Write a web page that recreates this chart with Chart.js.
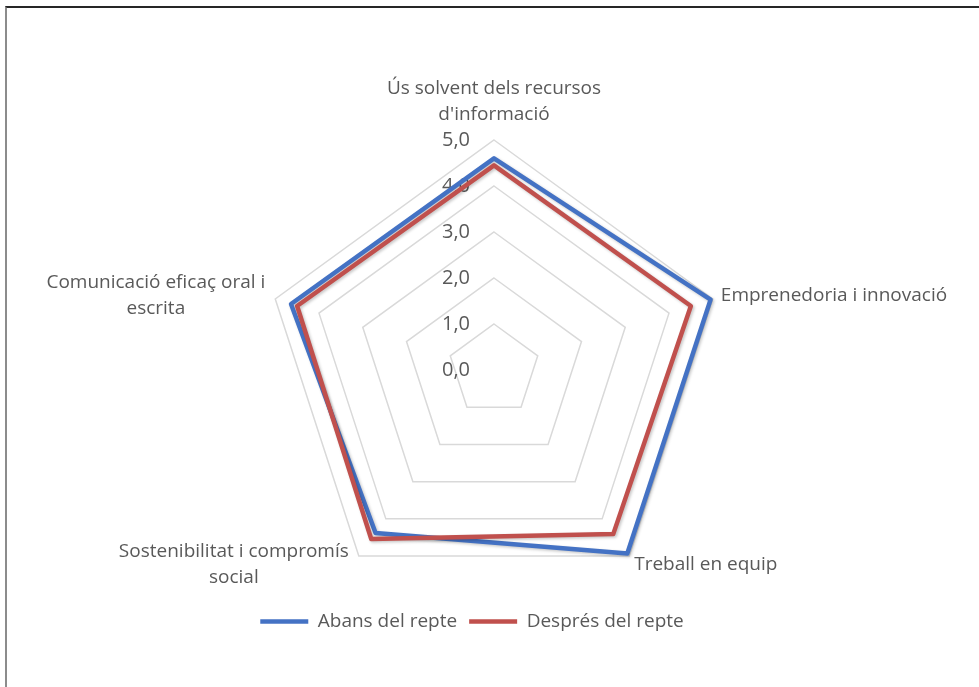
<!DOCTYPE html>
<html>
<head>
<meta charset="utf-8">
<script src="https://cdn.jsdelivr.net/npm/chart.js@4.4.0/dist/chart.umd.min.js"></script>
<style>
    html, body { margin: 0; padding: 0; background: #fff; }
    #wrap { position: relative; width: 979px; height: 687px; }
    #frame {
        position: absolute; left: 5px; top: 6px; right: 0; bottom: 0;
        border-top: 2px solid #262626; border-left: 2px solid #8c8c8c;
        pointer-events: none;
    }
</style>
</head>
<body>
<div id="wrap">
    <canvas id="radarChart"></canvas>
    <div id="frame"></div>
</div>
<script>
// Data
const categories = [
    ['Ús solvent dels recursos', "d'informació"],
    'Emprenedoria i innovació',
    'Treball en equip',
    ['Sostenibilitat i compromís', 'social'],
    ['Comunicació eficaç oral i', 'escrita']
];
const seriesNames = ['Abans del repte', 'Després del repte'];
const abansValues = [4.6, 4.95, 4.93, 4.38, 4.64];
const despresValues = [4.45, 4.5, 4.41, 4.54, 4.5];
const tickValues = [0, 1, 2, 3, 4, 5];

const textColor = '#595959';
const fontFamily = '"Open Sans", "DejaVu Sans", sans-serif';

// Tick labels left of the axis and wrapped point labels, drawn under the lines
const radarText = {
    id: 'radarText',
    beforeDatasetsDraw(chart) {
        const scale = chart.scales.r;
        const ctx = chart.ctx;
        ctx.save();
        ctx.fillStyle = textColor;
        ctx.textBaseline = 'middle';

        ctx.font = '20px ' + fontFamily;
        ctx.textAlign = 'right';
        tickValues.forEach(function(v) {
            const y = scale.yCenter - scale.getDistanceFromCenterForValue(v);
            ctx.fillText(v.toFixed(1).replace('.', ','), scale.xCenter - 24, y);
        });

        ctx.font = '19px ' + fontFamily;
        ctx.textAlign = 'center';
        const lineH = 26;
        categories.forEach(function(label, i) {
            const lines = [].concat(label);
            const pos = scale.getPointPosition(i, scale.drawingArea);
            const cos = Math.cos(pos.angle);
            const sin = Math.sin(pos.angle);
            const blockH = lines.length * lineH;
            const blockW = Math.max.apply(null, lines.map(function(l) { return ctx.measureText(l).width; }));
            let cx, cy;
            if (Math.abs(cos) < 0.1) {
                cx = pos.x;
                cy = pos.y - 12 - blockH / 2;
            } else {
                cx = cos > 0 ? pos.x + 8.5 * cos + blockW / 2 : pos.x - 10 - blockW / 2;
                cy = pos.y + 11 * sin;
            }
            lines.forEach(function(l, k) {
                ctx.fillText(l, cx, cy - blockH / 2 + lineH * (k + 0.5));
            });
        });
        ctx.restore();
    }
};

// Soft shadow under the series lines
const lineShadow = {
    id: 'lineShadow',
    beforeDatasetDraw(chart) {
        const ctx = chart.ctx;
        ctx.save();
        ctx.shadowColor = 'rgba(0, 0, 0, 0.22)';
        ctx.shadowBlur = 3;
        ctx.shadowOffsetX = 1.5;
        ctx.shadowOffsetY = 1.5;
    },
    afterDatasetDraw(chart) {
        chart.ctx.restore();
    }
};

// Excel centres the legend a little left of the plot centre
const legendShift = {
    id: 'legendShift',
    afterLayout(chart) {
        chart.legend.left -= 22;
        chart.legend.right -= 22;
    }
};

new Chart(document.getElementById('radarChart'), {
    type: 'radar',
    data: {
        labels: categories,
        datasets: [{
            label: seriesNames[0],
            data: abansValues,
            borderColor: '#4472c4',
            backgroundColor: '#4472c4',
            borderWidth: 4.5,
            borderCapStyle: 'round',
            borderJoinStyle: 'round',
            pointRadius: 0,
            fill: false,
            order: 1
        }, {
            label: seriesNames[1],
            data: despresValues,
            borderColor: '#c0504d',
            backgroundColor: '#c0504d',
            borderWidth: 4.5,
            borderCapStyle: 'round',
            borderJoinStyle: 'round',
            pointRadius: 0,
            fill: false,
            order: 0
        }]
    },
    options: {
        responsive: true,
        maintainAspectRatio: false,
        animation: false,
        layout: {
            padding: { top: 140, bottom: 46, left: 30, right: 21 }
        },
        scales: {
            r: {
                min: 0,
                max: 5,
                ticks: { stepSize: 1, display: false },
                grid: { color: '#d9d9d9', lineWidth: 1.5 },
                angleLines: { display: false },
                pointLabels: { display: false }
            }
        },
        plugins: {
            legend: {
                position: 'bottom',
                labels: {
                    usePointStyle: true,
                    pointStyle: 'line',
                    pointStyleWidth: 48,
                    padding: 12,
                    color: textColor,
                    font: { size: 19, family: fontFamily },
                    sort: function(a, b) { return a.datasetIndex - b.datasetIndex; }
                }
            },
            tooltip: { enabled: false }
        }
    },
    plugins: [radarText, lineShadow, legendShift]
});
</script>
</body>
</html>
